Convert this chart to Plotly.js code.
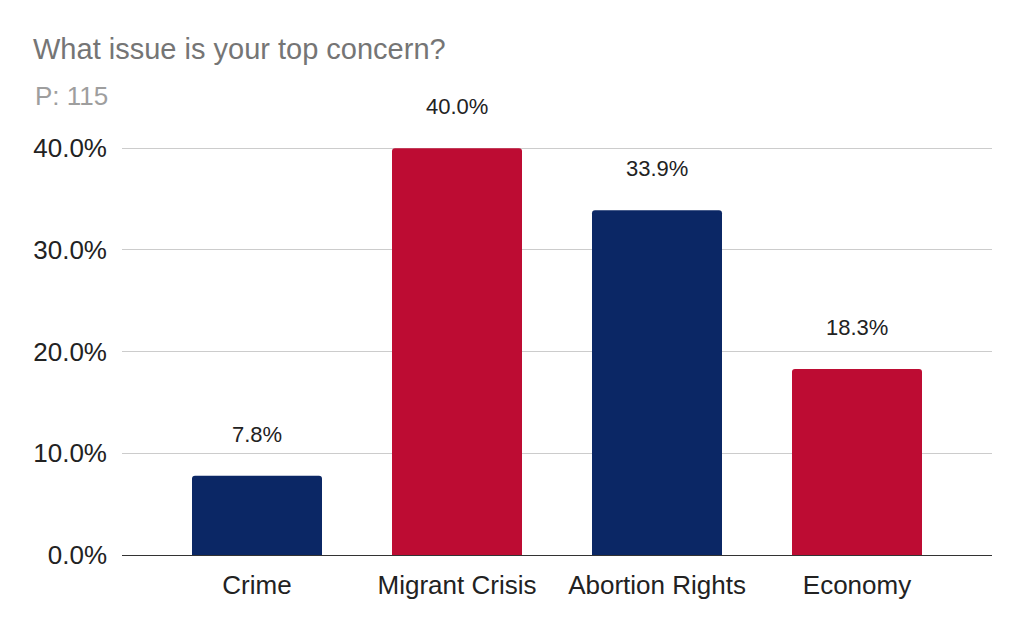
<!DOCTYPE html>
<html>
<head>
<meta charset="utf-8">
<script src="https://cdn.plot.ly/plotly-3.0.1.min.js"></script>
<style>html,body{margin:0;padding:0;background:#fff;}#chart{width:1024px;height:632px;}</style>
</head>
<body>
<div id="chart"></div>
<script>
const categories = ["Crime", "Migrant Crisis", "Abortion Rights", "Economy"];
const values = [7.8, 40.0, 33.9, 18.3];
const barColors = ["#0b2765", "#bd0c33", "#0b2765", "#bd0c33"];
const tickValues = [0, 10, 20, 30, 40];
const tickLabels = ["0.0%", "10.0%", "20.0%", "30.0%", "40.0%"];
const titleText = "What issue is your top concern?";
const subtitleText = "P: 115";

const FONT = "Liberation Sans, Arial, sans-serif";

const trace = {
  type: "bar",
  x: categories,
  y: values,
  width: 0.65,
  marker: { color: barColors, cornerradius: 3, line: { width: 0 } },
  hoverinfo: "skip"
};

const annotations = categories.map((c, i) => ({
  x: c, y: values[i], xref: "x", yref: "y",
  text: values[i].toFixed(1) + "%",
  showarrow: false, yanchor: "bottom", yshift: 27,
  font: { family: FONT, size: 22, color: "#222222" }
}));
annotations.push({
  xref: "paper", yref: "paper",
  x: (33 - 122) / (1024 - 122 - 32), y: 1 + (100 - 96) / (632 - 100 - 77),
  xanchor: "left", yanchor: "middle",
  text: subtitleText, showarrow: false,
  font: { family: FONT, size: 26, color: "#9e9e9e" }
});

const layout = {
  width: 1024, height: 632,
  margin: { l: 122, r: 32, t: 100, b: 77 },
  paper_bgcolor: "#ffffff", plot_bgcolor: "#ffffff",
  title: {
    text: titleText, x: 33 / 1024, xanchor: "left", xref: "container",
    y: 1 - 49 / 632, yanchor: "middle", yref: "container",
    font: { family: FONT, size: 29, color: "#757575" }
  },
  showlegend: false,
  bargap: 0.35,
  xaxis: {
    type: "category",
    range: [-0.675, 3.675],
    showgrid: false, zeroline: false, showline: false,
    ticks: "", ticklabelstandoff: 12,
    tickfont: { family: FONT, size: 26, color: "#222222" },
    fixedrange: true
  },
  yaxis: {
    range: [0, 44.74],
    tickvals: tickValues, ticktext: tickLabels,
    showgrid: true, gridcolor: "#cccccc", gridwidth: 1,
    zeroline: true, zerolinecolor: "#333333", zerolinewidth: 1,
    showline: false, ticks: "", ticklabelstandoff: 14,
    tickfont: { family: FONT, size: 26, color: "#222222" },
    fixedrange: true
  },
  annotations: annotations
};

Plotly.newPlot("chart", [trace], layout, { staticPlot: true, displayModeBar: false });
</script>
</body>
</html>
